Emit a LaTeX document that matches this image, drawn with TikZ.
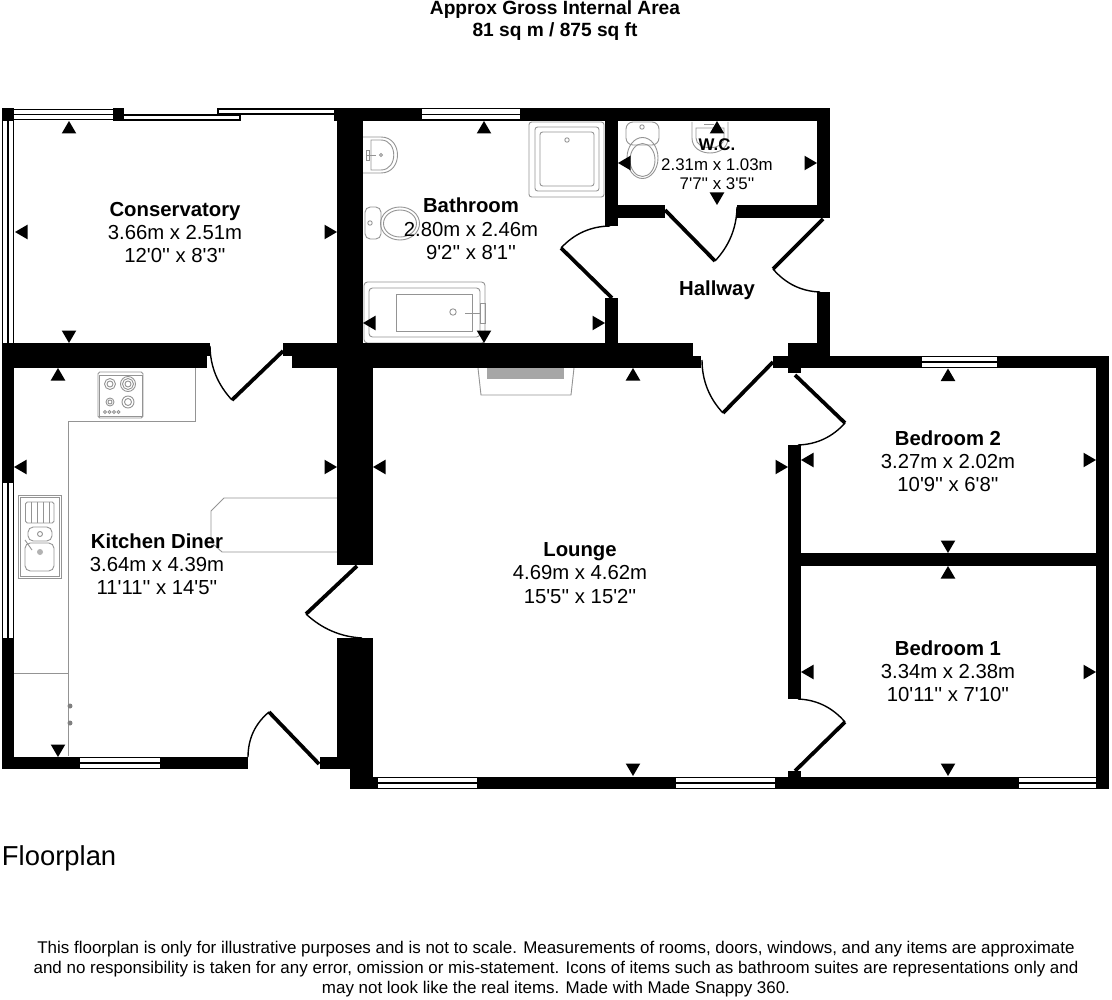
\documentclass[tikz,border=0pt]{standalone}
\usepackage{fontspec}
\setmainfont{Liberation Sans}[Ligatures=TeXOff]
\newcommand{\fsz}[1]{\fontsize{#1}{#1}\selectfont}
\newcommand{\wall}[4]{\fill[black] (#1,#2) rectangle (#3,#4);}
% horizontal window: x1 x2 y1 y2
\newcommand{\winH}[4]{\fill[black] (#1,#3) rectangle (#2,#4);
  \fill[white] (#1,{#3+1}) rectangle (#2,{(#3+#4)/2-0.6});
  \fill[white] (#1,{(#3+#4)/2+0.6}) rectangle (#2,{#4-1});}
\newcommand{\winV}[4]{\fill[black] (#1,#3) rectangle (#2,#4);
  \fill[white] ({#1+1},#3) rectangle ({(#1+#2)/2-0.6},#4);
  \fill[white] ({(#1+#2)/2+0.6},#3) rectangle ({#2-1},#4);}
\newcommand{\arrU}[2]{\fill[black] (#1,#2) -- ({#1+7.3},{#2+12.5}) -- ({#1-7.3},{#2+12.5}) -- cycle;}
\newcommand{\arrD}[2]{\fill[black] (#1,#2) -- ({#1+7.3},{#2-12.5}) -- ({#1-7.3},{#2-12.5}) -- cycle;}
\newcommand{\arrL}[2]{\fill[black] (#1,#2) -- ({#1+12.5},{#2-7.3}) -- ({#1+12.5},{#2+7.3}) -- cycle;}
\newcommand{\arrR}[2]{\fill[black] (#1,#2) -- ({#1-12.5},{#2-7.3}) -- ({#1-12.5},{#2+7.3}) -- cycle;}
% door: hinge, leaf end, arc end (arc approximated from the tangent point)
\newcommand{\door}[6]{\draw[doorleaf] (#1,#2) -- (#3,#4);
  \draw[doorarc] (#3,#4) .. controls
    ({#3+0.667*(#1+((#3+#5)/2-#1)/0.8536-#3)},{#4+0.667*(#2+((#4+#6)/2-#2)/0.8536-#4)}) and
    ({#5+0.667*(#1+((#3+#5)/2-#1)/0.8536-#5)},{#6+0.667*(#2+((#4+#6)/2-#2)/0.8536-#6)}) .. (#5,#6);}
\tikzset{
  lbl/.style={anchor=base,inner sep=0pt,outer sep=0pt},
  doorleaf/.style={line width=0.075cm,black},
  doorarc/.style={line width=0.028cm,black},
  fix/.style={draw=black!42,line width=0.018cm},
}
\begin{document}
\begin{tikzpicture}[x=0.02cm,y=-0.02cm]
\useasboundingbox (0,0) rectangle (1112,1000);
\fill[white] (0,0) rectangle (1112,1000);

% ---------- fixtures ----------
% kitchen worktops
\draw[fix] (195,368) -- (195,421) -- (68,421) -- (68,756);
\draw[fix] (14,673) -- (68,673);
\fill[black!50] (70,706) circle (2.5) (70,723) circle (2.5);
\draw[fix] (337,498) -- (224,498) -- (211,511) -- (211,542) -- (222,552) -- (337,552);
% hob
\draw[fix,rounded corners=1] (98,372) rectangle (143,418);
\draw[fix] (99,375) rectangle (142,416);
\draw[fix] (110,384) circle (5.5) (110,384) circle (3);
\draw[fix] (128,384) circle (7.5) (128,384) circle (5.5) (128,384) circle (3);
\draw[fix] (110,402) circle (4) (110,402) circle (2);
\draw[fix] (128,402) circle (6) (128,402) circle (3.5);
\foreach \kx in {105,109.5,114,118.5}{\draw[fix] (\kx,412) circle (1.6);}
% sink
\draw[fix] (18,495) rectangle (61,578);
\draw[fix] (20,497) rectangle (59,576);
\draw[fix,rounded corners=1] (25.5,502) rectangle (54,523);
\foreach \dx in {31,37,43,49}{\draw[fix] (\dx,502) -- (\dx,523);}
\draw[fix,rounded corners=3] (28,527) rectangle (52,541);
\draw[fix] (40,534) circle (2.5);
\draw[fix,rounded corners=3] (25,543) rectangle (54,571);
\fill[black!30] (40,552) circle (3);
\draw[fix] (25,540) -- (32,550);
% bathroom: basin
\draw[fix] (363,137) -- (381,137) .. controls (403,137) and (403,173) .. (381,173) -- (363,173);
\draw[fix] (371,140) -- (381,140) .. controls (398,140) and (398,170) .. (381,170) -- (371,170) -- cycle;
\draw[fix] (381,155) circle (1.6);
\draw[fix] (366,155) -- (376,155);
\draw[fix] (366,150) rectangle (369,160);
% bathroom: toilet
\draw[fix,rounded corners=3] (365,207) rectangle (381,239);
\draw[fix] (400,223.5) ellipse (19.5 and 16.5);
\draw[fix] (400,223.5) ellipse (16.5 and 13.5);
\draw[fix] (370,223) circle (2.2);
% shower
\draw[fix,rounded corners=1.5] (529,122) rectangle (604,197);
\draw[fix,rounded corners=1.5] (535,127) rectangle (599,191);
\draw[fix,rounded corners=1.5] (540,132) rectangle (594,186);
\draw[fix] (567,140) circle (2.2);
% bath
\draw[fix,rounded corners=2] (364,282) rectangle (485,343);
\draw[fix,rounded corners=2] (369,288) rectangle (480,337);
\draw[fix] (396,294) rectangle (472,331);
\draw[fix] (453,312) circle (3.2);
\draw[fix] (465,313) -- (481,313);
\draw[fix] (480,303) rectangle (485,323);
% fireplace
\draw[fix] (478,368) -- (481,395) -- (571,395) -- (574,368);
\fill[black!35] (487,368) rectangle (564,379);
% WC toilet
\draw[fix,rounded corners=4] (626,122) rectangle (659,145);
\draw[fix] (642,127) circle (2.2);
\draw[fix] (642.5,158) ellipse (15.5 and 20.5);
\draw[fix] (642.5,160) ellipse (12.5 and 16.5);
% WC basin
\draw[fix] (692,122) -- (692,138) .. controls (692,158) and (728,158) .. (728,138) -- (728,122);
\draw[fix] (696,128) -- (696,138) .. controls (696,151) and (724,151) .. (724,138) -- (724,128) -- cycle;
\draw[fix] (704,124) -- (714,124);

% ---------- walls ----------
% conservatory corners
\wall{2}{108}{14}{121}
\wall{113}{108}{124}{121}
% top wall right part + bathroom / wc
\wall{334}{108}{830}{121}
\wall{337}{121}{363}{343}
% bathroom/wc divider
\wall{605}{121}{618}{226}
\wall{605}{298}{618}{343}
% wc bottom wall
\wall{605}{205}{665}{218}
\wall{737}{205}{830}{218}
% wc right + hallway right
\wall{817}{121}{830}{218}
\wall{817}{292}{830}{356}
% conservatory / kitchen wall
\wall{2}{343}{210}{356}
\wall{2}{356}{207}{368}
\wall{283}{343}{363}{356}
\wall{292}{356}{373}{368}
% bath/lounge wall + hallway
\wall{337}{343}{693}{356}
\wall{337}{356}{701}{368}
\wall{788}{343}{830}{356}
\wall{773}{356}{1109}{368}
\wall{788}{368}{801}{373}
% kitchen left wall
\wall{2}{368}{14}{483}
\wall{2}{638}{14}{769}
\wall{14}{757}{248}{769}
\wall{320}{757}{350}{769}
% kitchen/lounge wall
\wall{337}{368}{373}{565}
\wall{337}{638}{373}{769}
\wall{350}{769}{373}{789}
% lounge bottom wall
\wall{350}{776.5}{1096}{789}
% bedrooms
\wall{1096}{356}{1109}{789}
\wall{788}{553}{1096}{566}
\wall{788}{445}{801}{699}
\wall{788}{771}{801}{789}

% ---------- windows ----------
\winH{14}{113}{109}{120}
\winH{422}{520}{108.5}{120.5}
\winH{80}{160}{757}{769}
\winH{378}{477}{777}{789}
\winH{676}{775}{777}{789}
\winH{1019}{1096}{777}{789}
\winH{922}{997}{356}{368}
\winV{2}{14}{121}{343}
\winV{2}{14}{483}{638}
% sliding doors
\draw[black,line width=0.03cm,fill=white] (124,115) -- (240,115) -- (240,120) -- (124,120);
\draw[black,line width=0.03cm,fill=white] (334,109) -- (218,109) -- (218,114) -- (334,114);

% ---------- doors ----------
\door{283}{351}{232}{400}{210}{346}
\door{612}{298}{561}{248}{610}{226}
\door{665}{210}{715}{261}{737}{207}
\door{823}{219}{773}{269}{820}{292}
\door{773}{362}{723}{413}{702}{360}
\door{795}{375}{845}{423}{798}{445}
\door{795}{771}{845}{722}{798}{699}
\door{357}{566}{306}{614}{362}{638}
\door{319}{764}{269}{712}{248}{757}

% ---------- measure arrows ----------
\arrU{69}{121}\arrL{15}{232}\arrR{337}{232}\arrD{69}{343}
\arrU{58}{368}\arrL{14}{467}\arrR{337}{467}\arrD{58}{757}
\arrU{484}{121}\arrL{363}{323}\arrR{605}{323}\arrD{484}{343}
\arrU{717}{121}\arrL{618}{163}\arrR{817}{163}\arrD{717}{205}
\arrU{633}{368}\arrL{373}{467}\arrR{788}{467}\arrD{633}{776}
\arrU{948}{368.5}\arrL{801}{460}\arrR{1096}{460}\arrD{948}{553}
\arrU{948}{566}\arrL{801}{672}\arrR{1096}{672}\arrD{948}{776}

% ---------- texts ----------
\node[lbl,font=\fsz{10.9}\bfseries] (t1) at (555,15) {Approx Gross Internal Area};
\node[lbl,font=\fsz{10.9}\bfseries] (t2) at (555,37) {81 sq m / 875 sq ft};

\newcommand{\rlabel}[7]{%
  \node[lbl,font=\fsz{#7}\bfseries] (#1a) at (#2,#3) {#4};
  \node[lbl,font=\fsz{#7}] (#1b) at (#2,{#3+23.3}) {#5};
  \node[lbl,font=\fsz{#7}] (#1c) at (#2,{#3+46.6}) {#6};}
\rlabel{con}{175}{216}{Conservatory}{3.66m x 2.51m}{12'0'' x 8'3''}{11.56}
\rlabel{bat}{471}{213}{Bathroom}{2.80m x 2.46m}{9'2'' x 8'1''}{11.56}
\rlabel{kit}{157}{548}{Kitchen Diner}{3.64m x 4.39m}{11'11'' x 14'5''}{11.56}
\rlabel{lou}{580}{556.5}{Lounge}{4.69m x 4.62m}{15'5'' x 15'2''}{11.56}
\rlabel{bd2}{948}{445}{Bedroom 2}{3.27m x 2.02m}{10'9'' x 6'8''}{11.56}
\rlabel{bd1}{948}{655}{Bedroom 1}{3.34m x 2.38m}{10'11'' x 7'10''}{11.56}
\node[lbl,font=\fsz{9.6}\bfseries] (wca) at (717,151) {W.C.};
\node[lbl,font=\fsz{9.6}] (wcb) at (717,171) {2.31m x 1.03m};
\node[lbl,font=\fsz{9.6}] (wcc) at (717,190) {7'7'' x 3'5''};
\node[lbl,font=\fsz{11.56}\bfseries] (hal) at (717,295.5) {Hallway};

\node[lbl,anchor=base west,font=\fsz{15.6}] (fp) at (2,865) {Floorplan};
\node[lbl,font=\fsz{9.65}] (f1) at (556,953) {This floorplan is only for illustrative purposes and is not to scale. Measurements of rooms, doors, windows, and any items are approximate};
\node[lbl,font=\fsz{9.65}] (f2) at (556,973) {and no responsibility is taken for any error, omission or mis-statement. Icons of items such as bathroom suites are representations only and};
\node[lbl,font=\fsz{9.65}] (f3) at (556,993) {may not look like the real items. Made with Made Snappy 360.};
\end{tikzpicture}
\end{document}
